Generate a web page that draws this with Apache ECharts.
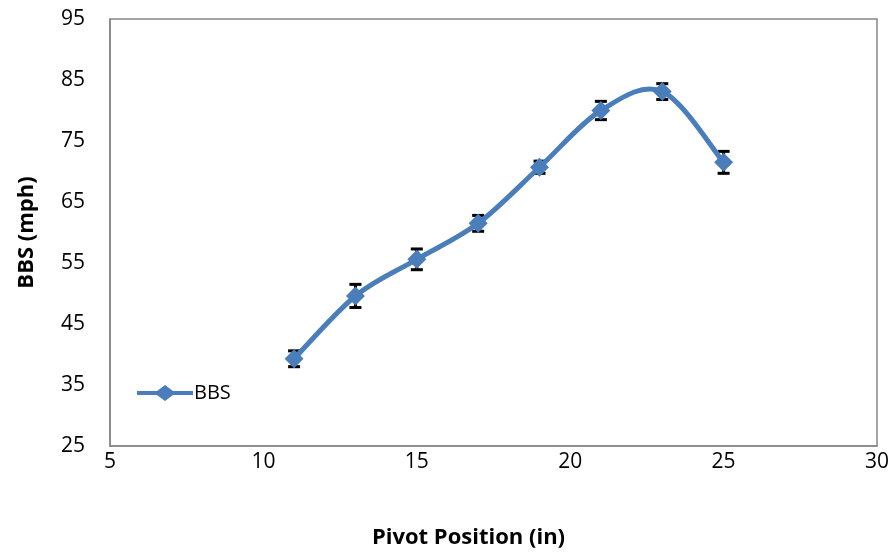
<!DOCTYPE html>
<html>
<head>
<meta charset="utf-8">
<script src="https://cdn.jsdelivr.net/npm/echarts@6/dist/echarts.min.js"></script>
<style>
  html, body { margin: 0; padding: 0; background: #fff; }
  #chart { width: 892px; height: 554px; }
</style>
</head>
<body>
<div id="chart"></div>
<script>
// Pivot position (in) and measured ball speed (mph)
const pivotPositions = [11, 13, 15, 17, 19, 21, 23, 25];
const bbsValues = [39.3, 49.6, 55.6, 61.5, 70.7, 80.0, 83.1, 71.5];
const bbsErrors = [1.3, 1.9, 1.7, 1.3, 1.0, 1.5, 1.3, 1.8];
const seriesName = 'BBS';
const xTitle = 'Pivot Position (in)';
const yTitle = 'BBS (mph)';

const font = '"Open Sans", "Noto Sans", sans-serif';
const blue = '#4a7ebb';
const lineData = pivotPositions.map((x, i) => [x, bbsValues[i]]);
const errData = pivotPositions.map((x, i) => [x, bbsValues[i] - bbsErrors[i], bbsValues[i] + bbsErrors[i]]);

// legend glyph: a short line with a diamond in the middle
const legendIcon = 'path://M0,6 L20,6 L28,0 L36,6 L56,6 L56,10 L36,10 L28,16 L20,10 L0,10 Z';

// smoothed segment i -> i+1 (cardinal spline, tension 1/6), in pixel space
function renderCurve(params, api) {
  const i = params.dataIndex;
  const n = lineData.length;
  if (i >= n - 1) return null;
  const p = k => api.coord(lineData[Math.max(0, Math.min(n - 1, k))]);
  const p0 = p(i - 1), p1 = p(i), p2 = p(i + 1), p3 = p(i + 2);
  const t = 1 / 6;
  return {
    type: 'bezierCurve',
    shape: {
      x1: p1[0], y1: p1[1], x2: p2[0], y2: p2[1],
      cpx1: p1[0] + (p2[0] - p0[0]) * t, cpy1: p1[1] + (p2[1] - p0[1]) * t,
      cpx2: p2[0] - (p3[0] - p1[0]) * t, cpy2: p2[1] - (p3[1] - p1[1]) * t
    },
    style: { stroke: blue, lineWidth: 5, fill: null, lineCap: 'round' }
  };
}

function renderErr(params, api) {
  const x = api.value(0);
  const lo = api.coord([x, api.value(1)]);
  const hi = api.coord([x, api.value(2)]);
  const half = 6;
  const style = { stroke: '#000', lineWidth: 3 };
  return {
    type: 'group',
    children: [
      { type: 'line', shape: { x1: lo[0], y1: lo[1], x2: hi[0], y2: hi[1] }, style: style },
      { type: 'line', shape: { x1: lo[0] - half, y1: lo[1], x2: lo[0] + half, y2: lo[1] }, style: style },
      { type: 'line', shape: { x1: hi[0] - half, y1: hi[1], x2: hi[0] + half, y2: hi[1] }, style: style }
    ]
  };
}

const chart = echarts.init(document.getElementById('chart'));
chart.setOption({
  animation: false,
  backgroundColor: '#ffffff',
  grid: {
    left: 110, top: 19, right: 15, bottom: 108,
    outerBoundsMode: 'none', containLabel: false,
    show: true, borderColor: '#868686', borderWidth: 1.5, backgroundColor: 'transparent'
  },
  legend: {
    left: 132, top: 378,
    itemWidth: 56, itemHeight: 16,
    itemGap: 2,
    textStyle: { fontFamily: font, fontSize: 20, color: '#000', padding: [0, 0, 0, -4] },
    data: [{ name: seriesName, icon: legendIcon }]
  },
  xAxis: {
    type: 'value', min: 5, max: 30, interval: 5,
    name: xTitle, nameLocation: 'middle', nameGap: 81,
    nameTextStyle: { fontFamily: font, fontSize: 22, fontWeight: 'bold', color: '#000', padding: [0, 50, 0, 0] },
    axisLine: { show: true, lineStyle: { color: '#868686', width: 1.5 } },
    axisTick: { show: false },
    splitLine: { show: false },
    axisLabel: { fontFamily: font, fontSize: 21, color: '#000', margin: 6 }
  },
  yAxis: {
    type: 'value', min: 25, max: 95, interval: 10,
    name: yTitle, nameLocation: 'middle', nameGap: 72,
    nameTextStyle: { fontFamily: font, fontSize: 22, fontWeight: 'bold', color: '#000' },
    axisLine: { show: true, lineStyle: { color: '#868686', width: 1.5 } },
    axisTick: { show: false },
    splitLine: { show: false },
    axisLabel: { fontFamily: font, fontSize: 21, color: '#000', margin: 25 }
  },
  series: [
    {
      name: 'curve',
      type: 'custom',
      z: 2,
      data: lineData,
      renderItem: renderCurve
    },
    {
      name: 'err',
      type: 'custom',
      z: 1,
      data: errData,
      renderItem: renderErr
    },
    {
      name: seriesName,
      type: 'line',
      data: lineData,
      symbol: 'diamond',
      symbolSize: 19,
      z: 3,
      lineStyle: { color: blue, width: 0, opacity: 0 },
      itemStyle: { color: blue }
    }
  ]
});
</script>
</body>
</html>
